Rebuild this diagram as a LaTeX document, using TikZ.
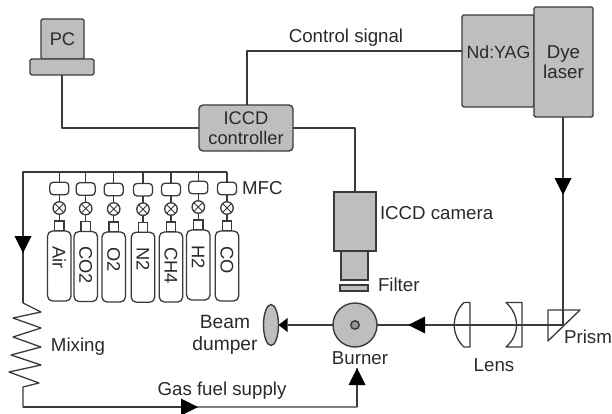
\documentclass[tikz,border=0pt]{standalone}
\usepackage{fontspec}
\setmainfont{Liberation Sans}
\usetikzlibrary{arrows.meta,shapes.geometric}
\definecolor{ink}{HTML}{3A3A3A}
\definecolor{shade}{HTML}{BEBEBE}
\definecolor{txt}{HTML}{2A2A2A}
\tikzset{
  flow/.style={draw=ink,line width=1.3pt,line join=round},
  tip/.style={flow,-{Triangle[length=17pt,width=17pt,fill=black,line width=0pt]}},
  box/.style={draw=ink,fill=shade,line width=1.4pt,rectangle,rounded corners=1.5pt,inner sep=0pt,outer sep=0pt,text=txt,align=center},
  round box/.style={box,rounded corners=4pt},
  plain/.style={draw=ink,fill=white,line width=1.3pt,rectangle,inner sep=0pt,outer sep=0pt},
  mfcbox/.style={plain,rounded corners=3.5pt,minimum width=19pt,minimum height=12.5pt},
  valve/.style={plain,circle,minimum size=12.5pt},
  neck/.style={plain,minimum width=9.5pt,minimum height=10pt},
  bottle/.style={plain,rounded corners=5pt,minimum width=23.5pt,minimum height=70pt},
  lab/.style={inner sep=0pt,outer sep=0pt,text=txt,font=\fontsize{18.7}{21}\selectfont,align=center},
  gaslab/.style={lab,rotate=-90,anchor=west,font=\fontsize{18.3}{21}\selectfont},
}
\begin{document}
\begin{tikzpicture}[x=1pt,y=-1pt,font=\fontsize{18.3}{20}\selectfont]
\useasboundingbox (0,0) rectangle (612,414);
% PC
\node[box,minimum width=43pt,minimum height=40pt] (pcscreen) at (62.5,39) {PC};
\node[box,minimum width=64pt,minimum height=16pt] (pcbase) at (62,67) {};
% controller
\node[round box,minimum width=94pt,minimum height=46pt,font=\fontsize{18.3}{20}\selectfont] (ctrl) at (246,128) {ICCD\\controller};
% lasers
\node[box,minimum width=72pt,minimum height=92pt] (yag) at (498,61) {};
\node[lab,font=\fontsize{17.7}{20}\selectfont] (yaglab) at (498.5,52) {Nd:YAG};
\node[box,minimum width=59pt,minimum height=110pt,font=\fontsize{18.7}{20}\selectfont] (dye) at (563.5,62) {Dye\\laser};
% camera
\node[box,rounded corners=0pt,minimum width=42pt,minimum height=59pt] (cam) at (355,221.5) {};
\node[box,rounded corners=0pt,minimum width=27pt,minimum height=29pt] (camlens) at (354.5,265.5) {};
\node[box,rounded corners=0pt,minimum width=28pt,minimum height=6pt] (filter) at (354,288) {};
\node[lab,anchor=west] (camlab) at (380,213) {ICCD camera};
\node[lab,anchor=west] (filterlab) at (378,285) {Filter};
% burner and dumper
\node[box,circle,minimum size=44pt] (burner) at (355,325) {};
\node[box,circle,minimum size=8.5pt,fill=gray!85] (core) at (355,325) {};
\node[box,ellipse,minimum width=15pt,minimum height=41pt] (dump) at (271,325) {};
% optics coordinates
\coordinate (prismc) at (563,325);
\coordinate (hit) at (408,325);
\coordinate (mid) at (563,195);
\coordinate (sig) at (247,51);
% beam
\draw[flow] (burner.east) -- (prismc);
\draw[tip] (prismc) -- (hit);
\draw[flow] (dye.south -| prismc) -- (prismc);
\draw[tip] (dye.south -| prismc) -- (mid);
\draw[flow,-{Triangle[length=9pt,width=14pt,fill=black,line width=0pt]}] (burner.west) -- (dump.east);
% lenses
\draw[flow] (470,302.5) -- (464,302.5) .. controls (451,315) and (451,335) .. (464,347) -- (470,347) -- cycle;
\draw[flow] (506,302.5) -- (522,302.5) -- (522,347) -- (506,347) .. controls (520,335) and (520,315) .. (506,302.5) -- cycle;
% prism
\draw[flow] (548,310) -- (580,310) -- (548,341) -- cycle;
% labels
\node[lab] (controllab) at (346,38) {Control signal};
\node[lab] (prismlab) at (588,337) {Prism};
\node[lab] (lenslab) at (494,365) {Lens};
\node[lab] (burnerlab) at (360,358) {Burner};
\node[lab,font=\fontsize{19.2}{22}\selectfont] (dumplab) at (225,335) {Beam\\dumper};
\node[lab] (mixlab) at (78,347) {Mixing};
\node[lab] (gaslab) at (222,391) {Gas fuel supply};
\node[lab,anchor=west] (mfclab) at (242,188) {MFC};
% signal lines
\draw[flow] (pcbase.south) |- (ctrl.west);
\draw[flow] (ctrl.north -| sig) -- (sig) -- (sig -| yag.west);
\draw[flow] (ctrl.east) -| (cam.north);
% gas manifold
\coordinate (ncorner) at (23,172);
\coordinate (nend) at (227,172);
\draw[flow] (nend) -- (ncorner) -- (23,303);
\draw[tip] (ncorner) -- (23,253);
\draw[flow] (23,303) -- (41,312) -- (13,318) -- (41,328) -- (13,337) -- (41,347) -- (11,355) -- (41,365) -- (9,372) -- (39,383) -- (23,387) -- (23,407) -- (357,407) -- (357,368);
\draw[tip] (23,407) -- (198,407);
\draw[tip] (357,407) -- (357,368);
% gas lines
\foreach \nm/\x/\dy/\gas in {a/59.3/0/Air,b/85.7/0.5/CO2,c/113.7/1/O2,d/143/1.2/N2,e/171/1/CH4,f/198.3/-1/H2,g/227/0/CO}{
  \node[mfcbox] (m\nm) at (\x,188.5+\dy) {};
  \node[valve] (v\nm) at (\x,208+\dy) {};
  \node[neck] (n\nm) at (\x,226+\dy) {};
  \node[bottle] (t\nm) at (\x,266+\dy) {};
  \draw[flow] (\x,172) -- (m\nm.north);
  \draw[flow] (m\nm.south) -- (v\nm.north);
  \draw[flow] (v\nm.south) -- (n\nm.north);
  \draw[ink,line width=0.8pt] (v\nm.45) -- (v\nm.225) (v\nm.135) -- (v\nm.315);
  \node[gaslab] (l\nm) at (\x,246+\dy) {\gas};
}
\end{tikzpicture}
\end{document}
